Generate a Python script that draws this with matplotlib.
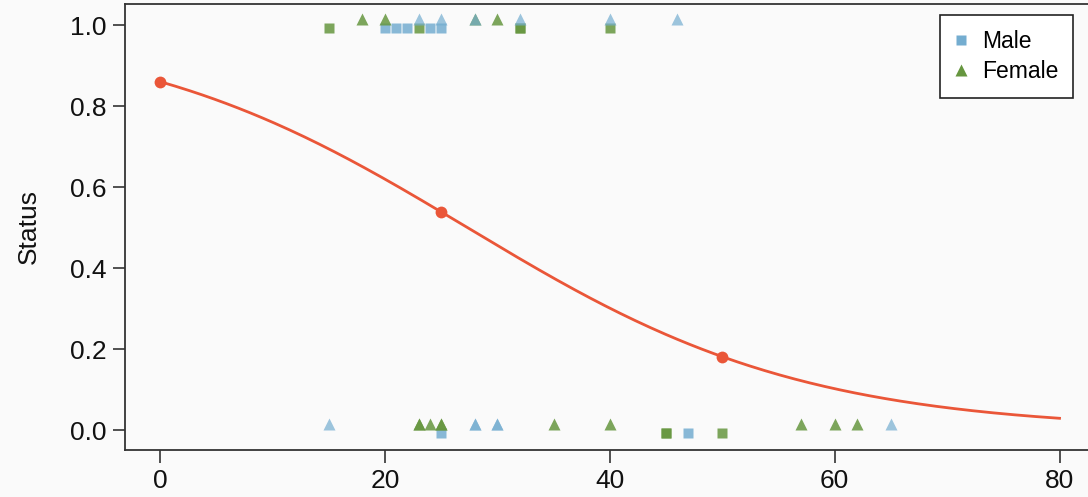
import numpy as np
import matplotlib
matplotlib.use("Agg")
import matplotlib.pyplot as plt
from matplotlib.lines import Line2D

plt.rcParams['font.family'] = ['Liberation Sans', 'DejaVu Sans']

# fitted logistic model: logit(p) = b0 + b1 * age
b0 = 1.8185
b1 = -0.0665
highlight_ages = [0, 25, 50]

# observations, grouped by marker shape / colour (status 1 = top row, 0 = bottom row)
sq_blue_1 = [20, 21, 22, 24, 25]
sq_blue_0 = [25, 47]
sq_green_1 = [15, 23, 32, 32, 40]
sq_green_0 = [45, 45, 50]
tri_green_1 = [18, 20, 28, 30]
tri_green_0 = [23, 23, 24, 25, 25, 35, 40, 57, 60, 62]
tri_blue_1 = [23, 25, 28, 32, 40, 46]
tri_blue_0 = [15, 28, 28, 30, 30, 65]

blue = '#74add0'
green = '#66963f'
red = '#ea5638'
bg = '#fafafa'

fig = plt.figure(figsize=(10.88, 4.97), dpi=100, facecolor=bg)
W, H = 1088, 497
ax = fig.add_axes([125 / W, 47 / H, (1100 - 125) / W, (450 - 4) / H])
ax.set_facecolor(bg)

sq_off = -0.008
tri_off = 0.015
ms_sq = 7.6
ms_tri = 8.6
a = 0.85

def pts(ages, status, off):
    return np.array(ages), np.full(len(ages), status + off)

for ages, st, col in [(sq_blue_1, 1, blue), (sq_blue_0, 0, blue),
                      (sq_green_1, 1, green), (sq_green_0, 0, green)]:
    x, y = pts(ages, st, sq_off)
    ax.plot(x, y, 's', ms=ms_sq, color=col, alpha=a, mec='none', zorder=3)

for ages, st, col in [(tri_green_1, 1, green), (tri_green_0, 0, green),
                      (tri_blue_1, 1, blue), (tri_blue_0, 0, blue)]:
    x, y = pts(ages, st, tri_off)
    ax.plot(x, y, '^', ms=ms_tri, color=col, alpha=0.7 if col == blue else a,
            mec='none', zorder=4)

age = np.linspace(0, 80, 300)
p = 1 / (1 + np.exp(-(b0 + b1 * age)))
ax.plot(age, p, color=red, lw=2.0, zorder=5)
ha = np.array(highlight_ages)
ax.plot(ha, 1 / (1 + np.exp(-(b0 + b1 * ha))), 'o', color=red, ms=8.5, mec='none', zorder=6)

ax.set_xlim(-3.11, 83.6)
ax.set_ylim(-0.049, 1.052)
ax.set_xticks([0, 20, 40, 60, 80])
ax.set_yticks([0.0, 0.2, 0.4, 0.6, 0.8, 1.0])
ax.set_yticklabels(['0.0', '0.2', '0.4', '0.6', '0.8', '1.0'])
ax.tick_params(axis='both', direction='out', length=9, width=1.2, labelsize=19,
               colors='#333333', labelcolor='#111111')
ax.tick_params(axis='x', pad=5)
ax.tick_params(axis='y', pad=4)
for s in ax.spines.values():
    s.set_linewidth(1.3)
    s.set_color('#333333')

ax.set_ylabel('Status', fontsize=19, labelpad=21, color='#111111')

handles = [Line2D([], [], marker='s', ls='none', color=blue, ms=7, mec='none'),
           Line2D([], [], marker='^', ls='none', color=green, ms=8.5, mec='none')]
leg = ax.legend(handles, ['Male', 'Female'], loc='upper right', fontsize=16.5,
                bbox_to_anchor=((1073 - 125) / (1100 - 125), (450 - 15) / (450 - 4)),
                borderaxespad=0, fancybox=False, edgecolor='#222222', facecolor='white',
                framealpha=1, handlelength=0.5, handletextpad=0.65, borderpad=0.65,
                labelspacing=0.3)
leg.get_frame().set_linewidth(1.2)

fig.savefig('out.png', dpi=100, facecolor=bg)
